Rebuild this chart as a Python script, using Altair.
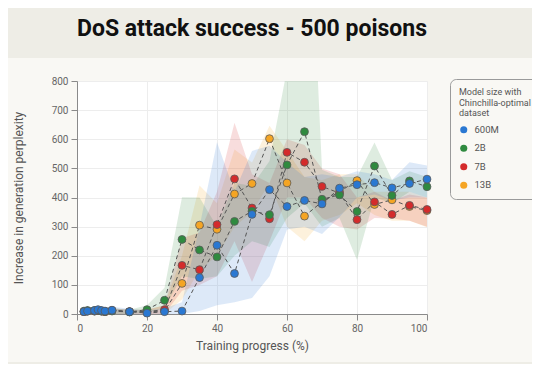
import altair as alt
import pandas as pd

x_vals = [2, 3, 5, 6, 7, 8, 10, 15, 20, 25, 30, 35, 40, 45, 50, 55, 60, 65, 70, 75, 80, 85, 90, 95, 100]

models = ["600M", "2B", "7B", "13B"]
colors = ["#2a78d2", "#2f8a3f", "#d42b2b", "#f5a524"]

mean_600M = [8, 10, 12, 15, 12, 10, 13, 8, 3, 8, 10, 125, 236, 139, 342, 427, 369, 390, 378, 432, 444, 451, 433, 448, 463]
lo_600M = [0, 0, 0, 0, 0, 0, 0, 0, 0, 0, 0, 10, 30, 40, 55, 130, 290, 300, 275, 333, 400, 410, 390, 400, 400]
hi_600M = [20, 22, 25, 28, 25, 22, 25, 18, 12, 20, 40, 300, 590, 420, 560, 578, 520, 470, 480, 470, 490, 480, 460, 521, 510]

mean_2B = [10, 12, 12, 13, 10, 9, 10, 7, 15, 47, 256, 220, 196, 318, 353, 341, 512, 626, 394, 409, 352, 508, 407, 457, 437]
lo_2B = [0, 0, 0, 0, 0, 0, 0, 0, 5, 20, 130, 120, 130, 200, 250, 230, 330, 380, 300, 330, 185, 400, 380, 420, 400]
hi_2B = [18, 20, 20, 22, 20, 18, 20, 15, 30, 90, 401, 400, 300, 450, 440, 525, 840, 1800, 495, 470, 470, 589, 460, 490, 470]

mean_7B = [8, 10, 10, 12, 10, 8, 12, 8, 8, 15, 167, 152, 307, 464, 364, 327, 555, 521, 438, 415, 324, 385, 342, 373, 359]
lo_7B = [0, 0, 0, 0, 0, 0, 0, 0, 0, 0, 80, 100, 130, 250, 110, 250, 400, 400, 330, 300, 290, 330, 328, 320, 300]
hi_7B = [15, 18, 18, 20, 18, 15, 20, 15, 15, 30, 260, 280, 420, 657, 480, 450, 600, 580, 500, 480, 400, 420, 390, 410, 400]

mean_13B = [8, 10, 10, 12, 10, 8, 12, 8, 8, 10, 105, 305, 291, 412, 448, 602, 450, 336, 385, 420, 458, 376, 392, 369, 355]
lo_13B = [0, 0, 0, 0, 0, 0, 0, 0, 0, 0, 50, 150, 200, 300, 350, 450, 300, 250, 320, 340, 380, 340, 320, 320, 298]
hi_13B = [15, 18, 18, 20, 18, 15, 20, 15, 15, 30, 200, 441, 380, 565, 520, 646, 560, 470, 460, 480, 480, 420, 420, 420, 400]

x_ticks = [0, 20, 40, 60, 80, 100]
y_ticks = [0, 100, 200, 300, 400, 500, 600, 700, 800]

series = {
    "600M": (mean_600M, lo_600M, hi_600M),
    "2B": (mean_2B, lo_2B, hi_2B),
    "7B": (mean_7B, lo_7B, hi_7B),
    "13B": (mean_13B, lo_13B, hi_13B),
}
rows = []
for name in reversed(models):  # draw 600M last (on top)
    m, lo, hi = series[name]
    for x, a, b, c in zip(x_vals, m, lo, hi):
        rows.append({"model": name, "x": x, "y": a, "lo": b, "hi": c})
df = pd.DataFrame(rows)

FONT = "Roboto"
xscale = alt.Scale(domain=[0, 100], nice=False)
yscale = alt.Scale(domain=[0, 800], nice=False)
xaxis = alt.Axis(values=x_ticks, title="Training progress (%)", titlePadding=7)
yaxis = alt.Axis(values=y_ticks, title="Increase in generation perplexity", titlePadding=26,
                 labelOverlap=False)
xenc = alt.X("x:Q", scale=xscale, axis=xaxis)
yenc = alt.Y("y:Q", scale=yscale, axis=yaxis)
cscale = alt.Scale(domain=models, range=colors)
legend = alt.Legend(
    title=["Model size with", "Chinchilla-optimal", "dataset"],
    orient="none", legendX=373, legendY=-2,
    fillColor="#f9f8f4", strokeColor="#9a9a9a", cornerRadius=6,
    padding=9, titleFontSize=9, titleFontWeight="normal",
    titleColor="#555555", titleFont=FONT, titleLineHeight=10.5,
    labelFontSize=9.5, labelColor="#555555", labelFont=FONT,
    symbolType="circle", symbolSize=50, symbolStrokeWidth=0, symbolOpacity=1,
    rowPadding=7.5, titlePadding=7, labelOffset=6)
cenc = alt.Color("model:N", scale=cscale, sort=models, legend=legend)

deco = pd.DataFrame({"k": [0]})
top_band = alt.Chart(deco).mark_rect(color="#eeede6", clip=False).encode(
    x=alt.value(-69), x2=alt.value(455), y=alt.value(-73), y2=alt.value(-23))
bottom_band = alt.Chart(deco).mark_rect(color="#eeede6", clip=False).encode(
    x=alt.value(-69), x2=alt.value(455), y=alt.value(281), y2=alt.value(283))

bands = alt.Chart(df).mark_area(opacity=0.16, clip=True).encode(
    x=xenc,
    y=alt.Y("lo:Q", scale=yscale, axis=yaxis),
    y2="hi:Q",
    color=cenc,
)

lines = alt.Chart(df).mark_line(strokeDash=[4, 3], color="#555555", strokeWidth=1, clip=True).encode(
    x=xenc, y=yenc, detail="model:N")

points = alt.Chart(df).mark_point(filled=True, size=62, stroke="#5a5a5a", strokeWidth=0.8, opacity=1).encode(
    x=xenc, y=yenc, color=cenc)

chart = alt.layer(top_band, bottom_band, bands, lines, points).properties(
    width=350, height=233,
    autosize=alt.AutoSizeParams(type="none"),
    padding={"left": 69, "top": 73, "right": 105, "bottom": 50},
    background="#f9f8f4",
    title=alt.TitleParams("DoS attack success - 500 poisons", anchor="start", frame="group",
                          fontSize=23, fontWeight="bold", font=FONT, color="#111111",
                          baseline="alphabetic", offset=-29, dy=22),
).configure_view(fill="white", stroke=None).configure_axis(
    labelFont=FONT, titleFont=FONT, labelFontSize=10, labelColor="#666666",
    titleFontSize=12, titleColor="#555555", titleFontWeight="normal",
    domainColor="#8a8a8a", tickColor="#8a8a8a", tickSize=6, labelPadding=3,
    gridColor="#ededed", gridWidth=1,
)

chart.save("out.html", embed_options={"renderer": "svg", "actions": False})
